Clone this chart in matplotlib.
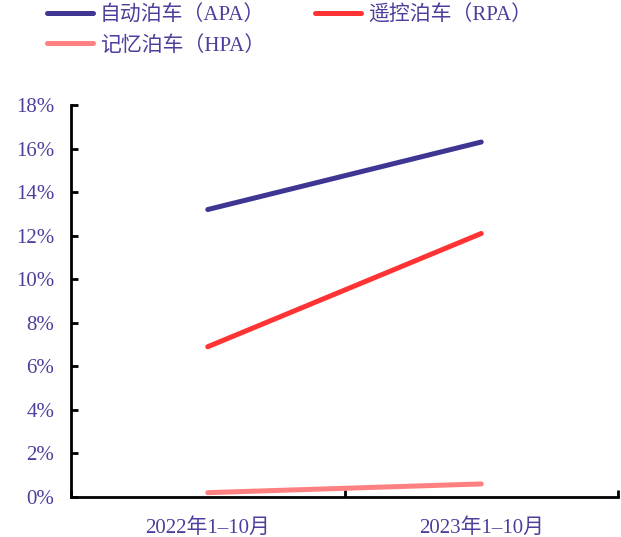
import matplotlib
matplotlib.use("Agg")
import matplotlib.pyplot as plt
from matplotlib.ticker import FuncFormatter, FixedLocator

plt.rcParams['font.family'] = ['Liberation Serif', 'Noto Sans CJK SC']

categories = ["2022年1–10月", "2023年1–10月"]
series_names = ["自动泊车（APA）", "遥控泊车（RPA）", "记忆泊车（HPA）"]
apa = [13.2, 16.3]
rpa = [6.9, 12.1]
hpa = [0.2, 0.6]
colors = ["#3f3694", "#ff3333", "#ff8080"]
text_color = "#4b3f9b"

fig = plt.figure(figsize=(6.21, 5.37), dpi=100)
ax = fig.add_axes([71/621, 1-497/537, (618-71)/621, (497-105)/537])

x = list(range(len(categories)))
handles = []
for vals, name, c in zip([apa, rpa, hpa], series_names, colors):
    h, = ax.plot(x, vals, color=c, lw=3.6, solid_capstyle='round', label=name)
    handles.append(h)

ax.set_xlim(-0.5, 1.5)
ax.set_ylim(0, 18)
ax.set_yticks(range(0, 19, 2))
ax.yaxis.set_major_formatter(FuncFormatter(lambda v, p: f"{int(v)}%"))
ax.xaxis.set_major_locator(FixedLocator([-0.5, 0.5, 1.5]))
ax.xaxis.set_major_formatter(FuncFormatter(lambda v, p: ""))
ax.xaxis.set_minor_locator(FixedLocator(x))
ax.set_xticklabels(categories, minor=True)
ax.tick_params(axis='x', which='minor', length=0, pad=15, labelsize=15, labelcolor=text_color)
ax.tick_params(axis='x', which='major', direction='in', length=5, width=2)
ax.tick_params(axis='y', direction='in', length=5, width=2, labelsize=15, labelcolor=text_color, pad=12)
for s in ['top', 'right']:
    ax.spines[s].set_visible(False)
for s in ['left', 'bottom']:
    ax.spines[s].set_linewidth(2)

order = [0, 2, 1]
fig.legend(handles=[handles[i] for i in order], loc='upper left', bbox_to_anchor=(0.045, 1.025), ncol=2,
           frameon=False, fontsize=15, labelcolor=text_color, handlelength=2.2,
           columnspacing=2.4, handletextpad=0.35, labelspacing=0.5)

fig.savefig("out.png", dpi=100)
